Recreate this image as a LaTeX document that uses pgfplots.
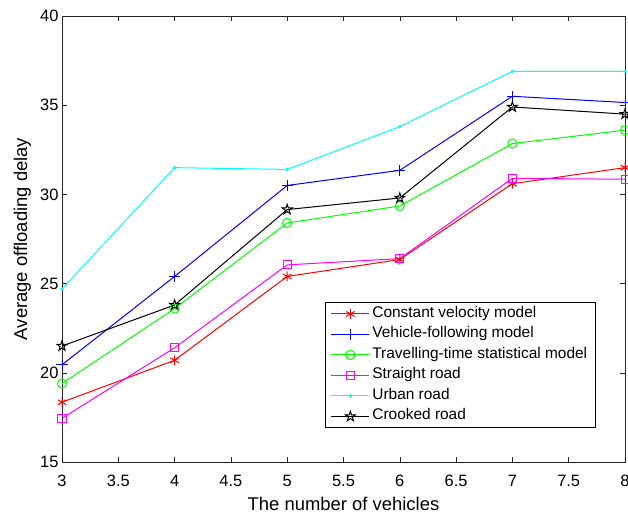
\documentclass[border=0pt]{standalone}
\usepackage{fontspec}
\setmainfont{Liberation Sans}
\usepackage{pgfplots}
\pgfplotsset{compat=1.18}
\definecolor{axgray}{rgb}{0.15,0.15,0.15}
\definecolor{mred}{RGB}{255,0,0}
\definecolor{mblue}{RGB}{0,0,255}
\definecolor{mgreen}{RGB}{0,255,0}
\definecolor{mmagenta}{RGB}{255,0,255}
\definecolor{mcyan}{RGB}{0,255,255}
\definecolor{mblack}{RGB}{0,0,0}
\pgfdeclareplotmark{pentagram}{%
 \pgfpathmoveto{\pgfpointpolar{90}{1.3\pgfplotmarksize}}%
 \pgfpathlineto{\pgfpointpolar{126}{0.5\pgfplotmarksize}}%
 \pgfpathlineto{\pgfpointpolar{162}{1.3\pgfplotmarksize}}%
 \pgfpathlineto{\pgfpointpolar{198}{0.5\pgfplotmarksize}}%
 \pgfpathlineto{\pgfpointpolar{234}{1.3\pgfplotmarksize}}%
 \pgfpathlineto{\pgfpointpolar{270}{0.5\pgfplotmarksize}}%
 \pgfpathlineto{\pgfpointpolar{306}{1.3\pgfplotmarksize}}%
 \pgfpathlineto{\pgfpointpolar{342}{0.5\pgfplotmarksize}}%
 \pgfpathlineto{\pgfpointpolar{18}{1.3\pgfplotmarksize}}%
 \pgfpathlineto{\pgfpointpolar{54}{0.5\pgfplotmarksize}}%
 \pgfpathclose\pgfusepathqstroke}
\begin{document}
\begin{tikzpicture}
\begin{axis}[
  at={(0,0)}, anchor=south west,
  width=563bp, height=446bp, scale only axis,
  xmin=3, xmax=8, ymin=15, ymax=40,
  xtick={3,3.5,...,8}, ytick={15,20,...,40},
  /pgf/number format/assume math mode=true,
  tick align=inside, major tick length=5bp,
  axis line style={axgray, line width=0.6bp},
  tick style={axgray, line width=0.6bp},
  ticklabel style={font=\fontsize{16.5}{19}\selectfont},
  xticklabel style={yshift=-10bp},
  label style={font=\fontsize{18.5}{22}\selectfont},
  xlabel={The number of vehicles},
  ylabel={Average offloading delay},
  xlabel style={at={(axis description cs:0.5,0)}, anchor=base, yshift=-48bp},
  ylabel style={at={(axis description cs:0,0.5)}, anchor=base, yshift=35bp},
  every axis plot/.append style={line width=1bp},
  legend image code/.code={\draw[mark repeat=2,mark phase=2,#1] plot coordinates {(0bp,0bp) (19bp,0bp) (38bp,0bp)};},
  legend cell align=left,
  legend style={at={(0.9485,0.0762)}, anchor=south east, draw=black, line width=0.6bp,
    font=\fontsize{15.5}{18}\selectfont, inner xsep=6bp, inner ysep=1bp,
    nodes={inner xsep=2.5bp, inner ysep=2.4bp, text height=11.2bp, text depth=4.5bp}},
]
\addplot[color=mred, mark=asterisk, mark size=5bp] coordinates {(3,18.35) (4,20.7) (5,25.4) (6,26.35) (7,30.6) (8,31.5)};
\addlegendentry{Constant velocity model}
\addplot[color=mblue, mark=+, mark size=5.5bp] coordinates {(3,20.45) (4,25.4) (5,30.5) (6,31.35) (7,35.5) (8,35.15)};
\addlegendentry{Vehicle-following model}
\addplot[color=mgreen, mark=o, mark size=4.6bp] coordinates {(3,19.4) (4,23.6) (5,28.4) (6,29.35) (7,32.85) (8,33.6)};
\addlegendentry{Travelling-time statistical model}
\addplot[color=mmagenta, mark=square, mark size=4bp] coordinates {(3,17.45) (4,21.4) (5,26.05) (6,26.4) (7,30.9) (8,30.85)};
\addlegendentry{Straight road}
\addplot[color=mcyan, mark=*, mark size=1.2bp] coordinates {(3,24.7) (4,31.5) (5,31.4) (6,33.8) (7,36.9) (8,36.9)};
\addlegendentry{Urban road}
\addplot[color=mblack, mark=pentagram, mark size=4bp] coordinates {(3,21.5) (4,23.8) (5,29.15) (6,29.8) (7,34.9) (8,34.5)};
\addlegendentry{Crooked road}
\end{axis}
\pgfresetboundingbox
\path[use as bounding box] (-62bp,-50bp) rectangle (566bp,462bp);
\end{tikzpicture}
\end{document}
